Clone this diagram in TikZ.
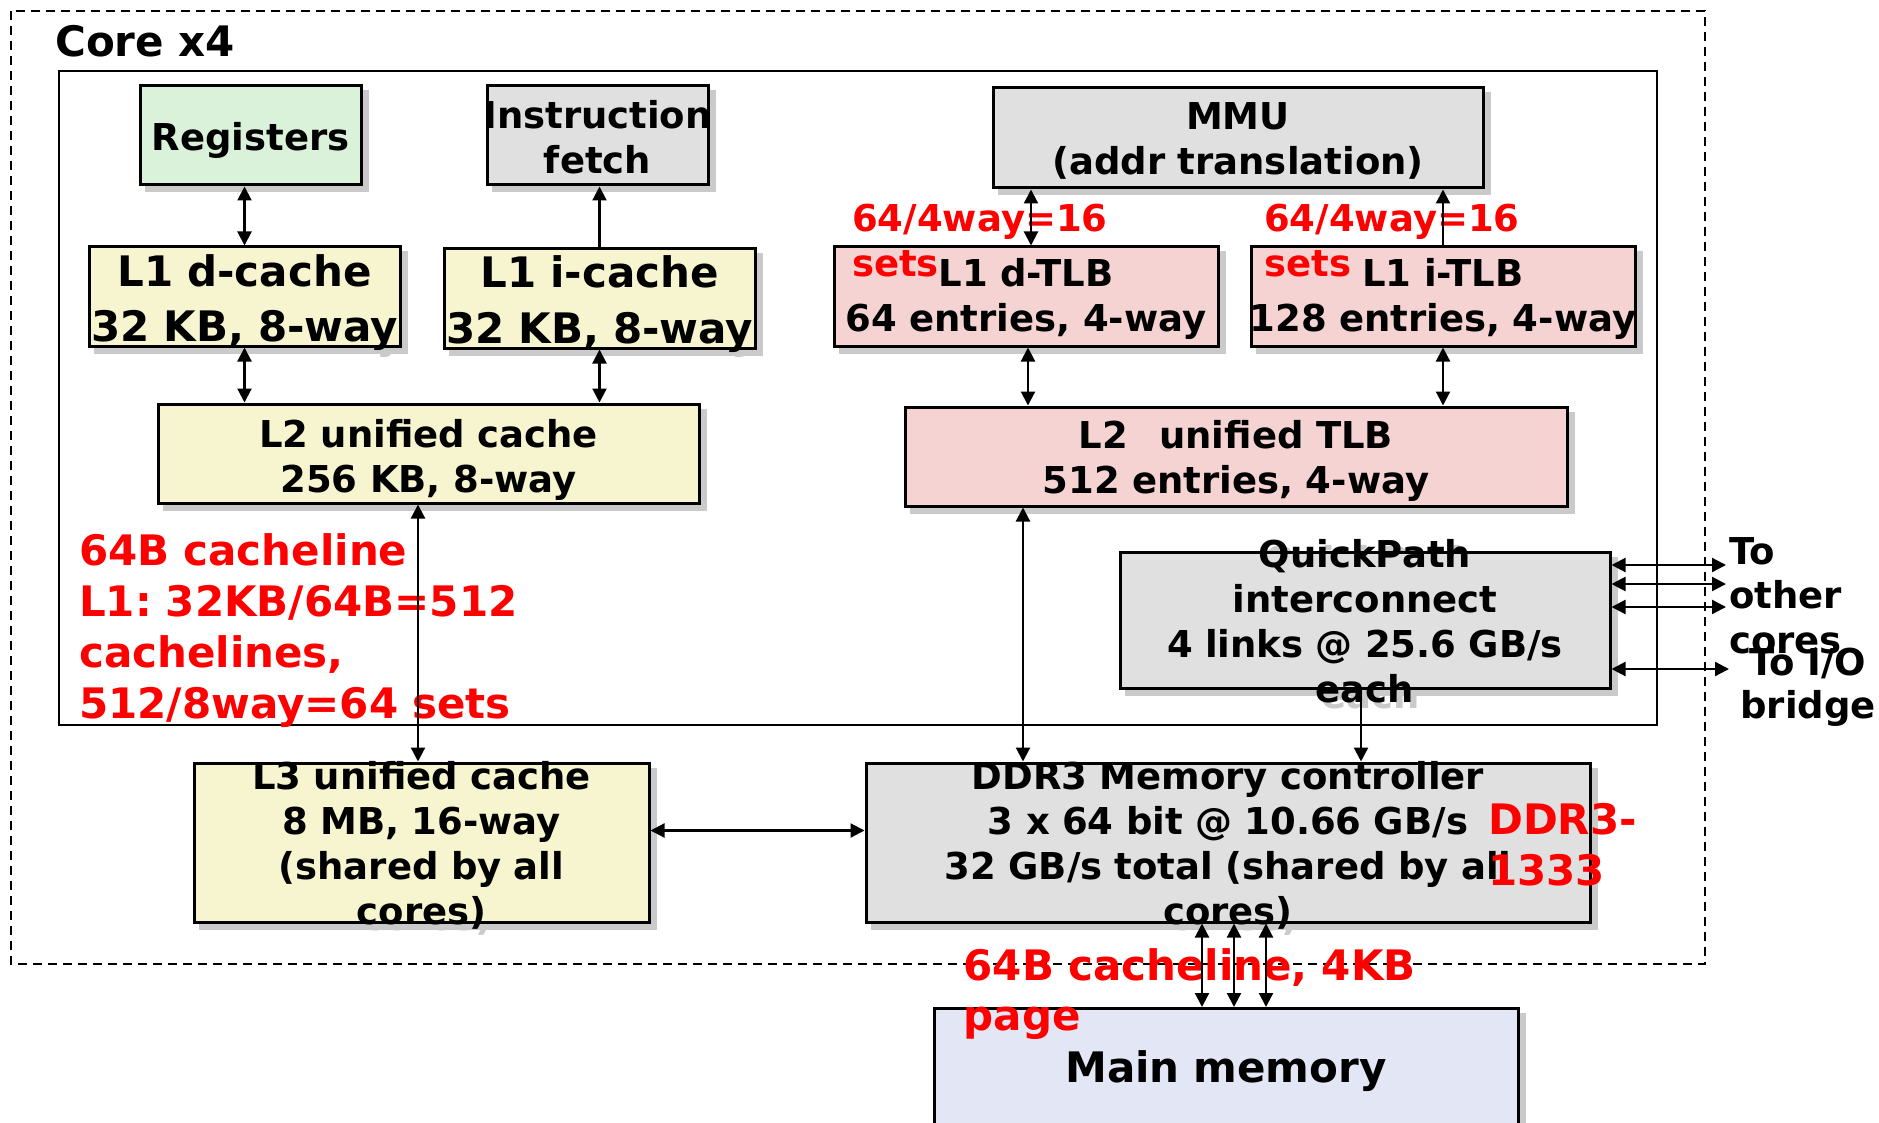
\documentclass[tikz,border=0pt]{standalone}
\usepackage{fontspec}
\setmainfont{DejaVu Sans}
\usetikzlibrary{arrows.meta}
\frenchspacing

\definecolor{regfill}{HTML}{D9F2D9}
\definecolor{cachefill}{HTML}{F7F4D0}
\definecolor{tlbfill}{HTML}{F5D3D3}
\definecolor{unitgray}{HTML}{E0E0E0}
\definecolor{memfill}{HTML}{E3E6F5}
\definecolor{shadegray}{HTML}{CACACA}
\definecolor{notered}{HTML}{FF0000}

\tikzset{
  unit/.style={rectangle, draw=black, line width=3pt, inner sep=0pt},
  unitshade/.style={rectangle, fill=shadegray, draw=shadegray, line width=3pt, inner sep=0pt},
  boxtext/.style={anchor=base, inner sep=0pt, text width=900pt, align=center},
  txtnormal/.style={font=\bfseries\fontsize{37}{45}\selectfont},
  txtlarge/.style={font=\bfseries\fontsize{42}{55}\selectfont},
  txtmem/.style={font=\bfseries\fontsize{42}{50}\selectfont},
  note/.style={anchor=base west, inner sep=0pt, text width=700pt, align=left, text=notered},
  link/.style={line width=2.2pt, {Triangle[length=14pt,width=14pt]}-{Triangle[length=14pt,width=14pt]}},
  linkone/.style={line width=2.2pt, -{Triangle[length=14pt,width=14pt]}},
  container/.style={line width=2.2pt, dash pattern=on 9pt off 6pt},
  corebox/.style={line width=2.8pt},
}

% #1 name, #2 centre x, #3 centre y, #4 width, #5 height, #6 fill,
% #7 first baseline relative to the centre, #8 text, #9 text style
\newcommand{\hwunit}[9]{%
  \node[unitshade, minimum width=#4, minimum height=#5] at ({#2+6},{#3+6}) {};
  \node[boxtext, #9, text=shadegray] at ({#2+6},{#3+(#7)+6}) {#8};
  \node[unit, fill=#6, minimum width=#4, minimum height=#5] (#1) at ({#2},{#3}) {};
  \node[boxtext, #9] (#1-text) at ({#2},{#3+(#7)}) {#8};
}

\begin{document}
\begin{tikzpicture}[x=1pt, y=-1pt]
\useasboundingbox (0,0) rectangle (1879,1123);

% package boundary and core boundary
\draw[container] (11,11) rectangle (1705,964);
\draw[corebox] (59,71) rectangle (1657,725);
\node[anchor=base west, inner sep=0pt, font=\bfseries\fontsize{42}{50}\selectfont] (corelabel) at (55,57) {Core x4};

% functional units
\hwunit{reg}{250.5}{135.5}{221}{99}{regfill}{15.2}{Registers}{txtnormal}
\hwunit{ifetch}{597.5}{135.5}{221}{99}{unitgray}{-6.5}{Instruction\\fetch}{txtnormal}
\hwunit{l1d}{244.5}{296.5}{311}{99}{cachefill}{-9.5}{L1 d-cache\\32 KB, 8-way}{txtlarge}
\hwunit{l1i}{599.5}{298.5}{311}{99}{cachefill}{-10.5}{L1 i-cache\\32 KB, 8-way}{txtlarge}
\hwunit{l2}{428.5}{453.5}{541}{99}{cachefill}{-6.5}{L2 unified cache\\256 KB, 8-way}{txtnormal}
\hwunit{mmu}{1238}{138}{490}{100}{unitgray}{-8}{MMU\\(addr translation)}{txtnormal}
\hwunit{l1dtlb}{1026}{296.5}{384}{99}{tlbfill}{-9.5}{L1 d-TLB\\64 entries, 4-way}{txtnormal}
\hwunit{l1itlb}{1443}{296.5}{384}{99}{tlbfill}{-9.5}{L1 i-TLB\\128 entries, 4-way}{txtnormal}
\hwunit{l2tlb}{1236}{456.5}{662}{99}{tlbfill}{-8.5}{L2\hspace{31pt}unified TLB\\512 entries, 4-way}{txtnormal}
\hwunit{qpi}{1365}{620}{490}{136}{unitgray}{-52.5}{QuickPath\\interconnect\\4 links @ 25.6 GB/s\\each}{txtnormal}
\hwunit{l3}{421.5}{842.5}{455}{159}{cachefill}{-53.5}{L3 unified cache\\8 MB, 16-way\hspace*{12pt}\\(shared by all\\cores)}{txtnormal}
\hwunit{ddr}{1228}{842.5}{724}{159}{unitgray}{-53.5}{DDR3 Memory controller\\3 x 64 bit @ 10.66 GB/s\\32 GB/s total (shared by all\\cores)}{txtnormal}
\hwunit{mem}{1226}{1108.5}{584}{200}{memfill}{-26.5}{Main memory}{txtmem}

% annotations
\node[note, font=\bfseries\fontsize{42}{51}\selectfont] (linenote) at (79,565.5)
  {64B cacheline\\L1: 32KB/64B=512\\cachelines,\\512/8way=64 sets};
\node[note, font=\bfseries\fontsize{37}{45}\selectfont] (dtlbsets) at (852,232) {64/4way=16\\sets};
\node[note, font=\bfseries\fontsize{37}{45}\selectfont] (itlbsets) at (1264,232) {64/4way=16\\sets};
\node[note, font=\bfseries\fontsize{42}{51}\selectfont] (ddrspeed) at (1488,834) {DDR3-\\1333};
\node[note, font=\bfseries\fontsize{42}{50}\selectfont] (pagenote) at (963.5,980.7) {64B cacheline, 4KB\\page};

% external link labels
\node[anchor=base west, inner sep=0pt, text width=300pt, align=left,
      font=\bfseries\fontsize{37}{44.5}\selectfont] (othercores) at (1729,564) {To\\other\\cores};
\node[anchor=base, inner sep=0pt, text width=300pt, align=center,
      font=\bfseries\fontsize{37}{43.5}\selectfont] (iobridge) at (1808,675) {To I/O\\bridge};

% data paths inside the core
\draw[link] (l1d.north |- reg.south) -- (l1d.north);
\draw[linkone] (l1i.north) -- (l1i.north |- ifetch.south);
\draw[link] (l1d.south) -- (l1d.south |- l2.north);
\draw[link] (l1i.south) -- (l1i.south |- l2.north);
\coordinate (l2down) at ([xshift=-10.5pt]l2.south);
\draw[link] (l2down) -- (l2down |- l3.north);

% address translation paths
\coordinate (dtlbup) at ([xshift=5pt]l1dtlb.north);
\draw[link] (dtlbup) -- (dtlbup |- mmu.south);
\draw[linkone] (l1itlb.north) -- (l1itlb.north |- mmu.south);
\coordinate (dtlbdown) at ([xshift=2pt]l1dtlb.south);
\draw[link] (dtlbdown) -- (dtlbdown |- l2tlb.north);
\draw[link] (l1itlb.south) -- (l1itlb.south |- l2tlb.north);
\coordinate (tlbmem) at ([xshift=-3pt]l1dtlb.south |- l2tlb.south);
\draw[link] (tlbmem) -- (tlbmem |- ddr.north);

% uncore paths
\coordinate (qpidown) at ([xshift=-4pt]qpi.south);
\draw[linkone] (qpidown) -- (qpidown |- ddr.north);
\coordinate (l3side) at ([yshift=12pt]l3.east);
\draw[link] (l3side) -- (l3side -| ddr.west);
\foreach \dx/\nm in {-26/ch1, 6/ch2, 38/ch3} {
  \coordinate (\nm) at ([xshift=\dx pt]ddr.south);
  \draw[link] (\nm) -- (\nm |- mem.north);
}

% QuickPath links leaving the package
\coordinate (oc1) at (1726,565);
\coordinate (oc2) at (1726,584);
\coordinate (oc3) at (1726,607);
\coordinate (iob) at (1729,669);
\draw[link] (qpi.east |- oc1) -- (oc1);
\draw[link] (qpi.east |- oc2) -- (oc2);
\draw[link] (qpi.east |- oc3) -- (oc3);
\draw[link] (qpi.east |- iob) -- (iob);
\end{tikzpicture}
\end{document}
